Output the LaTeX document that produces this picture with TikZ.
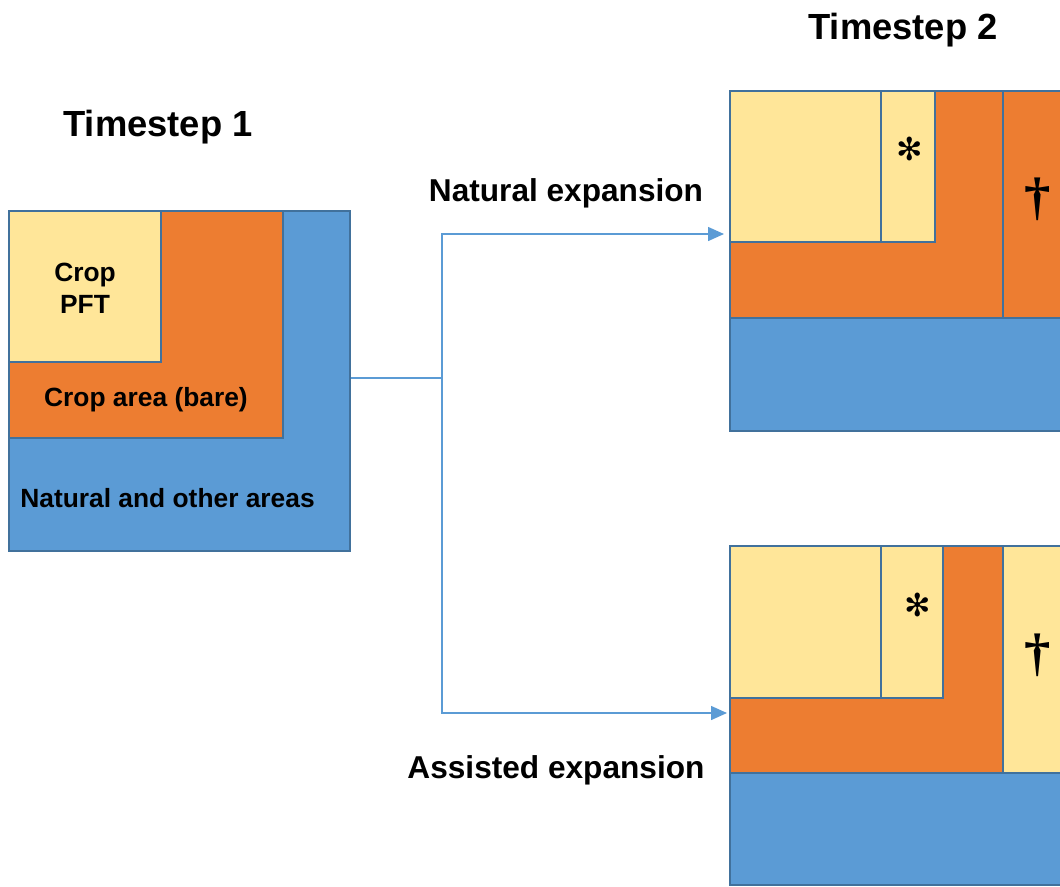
\documentclass[tikz,border=0pt]{standalone}
\usepackage{fontspec}
\setmainfont{Liberation Sans}
\newfontfamily\markfont{Liberation Serif}
\newfontfamily\starfont{DejaVu Sans}
\usetikzlibrary{arrows.meta}

\definecolor{cropyellow}{HTML}{FFE699}
\definecolor{croporange}{HTML}{ED7D31}
\definecolor{natblue}{HTML}{5B9BD5}
\definecolor{edgeblue}{HTML}{41719C}

\begin{document}
\begin{tikzpicture}[x=0.02cm,y=-0.02cm,
    tile/.style={draw=edgeblue,line width=1.4pt},
    link/.style={natblue,line width=0.8pt},
    title/.style={font=\bfseries\fontsize{20.7}{24}\selectfont},
    branch/.style={font=\bfseries\fontsize{18}{21}\selectfont},
    area/.style={font=\bfseries\fontsize{15}{18}\selectfont,align=center,inner sep=0pt},
    dagsymb/.style={font=\markfont\bfseries\fontsize{30}{32}\selectfont,inner sep=0pt},
    starsymb/.style={font=\starfont\fontsize{18}{20}\selectfont,inner sep=0pt}]
  \useasboundingbox (0,0) rectangle (1060,886);
  \clip (0,0) rectangle (1060,886);

  % timestep 1
  \node[title] (ts1) at (158,127) {Timestep 1};
  \draw[tile,fill=natblue] (9,211) rectangle (350,551);
  \draw[tile,fill=croporange] (9,211) rectangle (283,438);
  \draw[tile,fill=cropyellow] (9,211) rectangle (161,362);
  \node[area] (pft) at (85,288) {Crop\\PFT};
  \node[area] (bare) at (146,400) {Crop area (bare)};
  \node[area,anchor=west] (natural) at (20,498) {Natural and other areas};

  % timestep 2, natural expansion
  \node[title] (ts2) at (903,30) {Timestep 2};
  \node[branch] (natexp) at (566,193) {Natural expansion};
  \draw[tile,fill=natblue] (730,91) rectangle (1080,431);
  \draw[tile,fill=croporange] (730,91) rectangle (1003,318);
  \draw[tile,fill=croporange] (1003,91) rectangle (1080,318);
  \draw[tile,fill=cropyellow] (730,91) rectangle (881,242);
  \draw[tile,fill=cropyellow] (881,91) rectangle (935,242);
  \node[starsymb] (star1) at (910,149) {✻};
  \node[dagsymb] (dag1) at (1038,199) {†};

  % timestep 2, assisted expansion
  \node[branch] (assexp) at (556,770) {Assisted expansion};
  \draw[tile,fill=natblue] (730,546) rectangle (1080,885);
  \draw[tile,fill=croporange] (730,546) rectangle (1003,773);
  \draw[tile,fill=cropyellow] (1003,546) rectangle (1080,773);
  \draw[tile,fill=cropyellow] (730,546) rectangle (881,698);
  \draw[tile,fill=cropyellow] (881,546) rectangle (943,698);
  \node[starsymb] (star2) at (918,605) {✻};
  \node[dagsymb] (dag2) at (1038,655) {†};

  % connectors
  \coordinate (t1out) at (351,378);
  \coordinate (fork) at (442,378);
  \coordinate (natin) at (724,234);
  \coordinate (assin) at (727,713);
  \draw[link] (t1out) -- (fork);
  \draw[link,-{Triangle[length=0.32cm,width=0.28cm]}] (fork) |- (natin);
  \draw[link,-{Triangle[length=0.32cm,width=0.28cm]}] (fork) |- (assin);
\end{tikzpicture}
\end{document}
